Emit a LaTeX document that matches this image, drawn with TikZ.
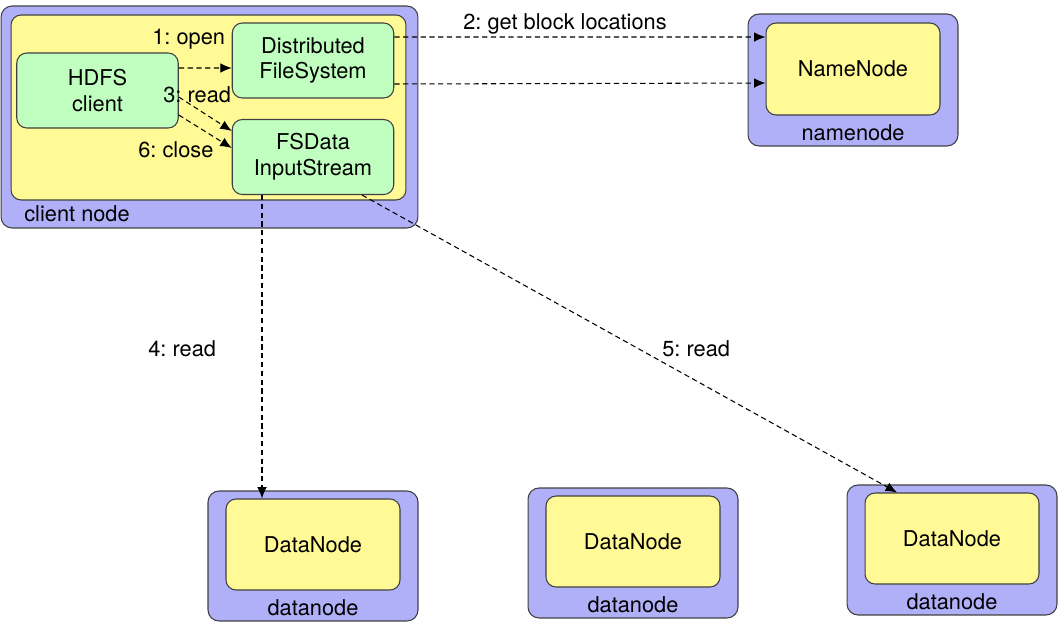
\documentclass[tikz,border=0pt]{standalone}
\usepackage{fontspec}
\setmainfont{TeX Gyre Heros}
\usetikzlibrary{arrows.meta}
\frenchspacing

\definecolor{hostblue}{RGB}{176,176,248}
\definecolor{jvmyellow}{RGB}{255,249,150}
\definecolor{objgreen}{RGB}{192,255,192}

\tikzset{
    host/.style={draw=black!75, line width=0.6pt, fill=hostblue, rounded corners=0.22cm, inner sep=0pt},
    jvm/.style={draw=black!75, line width=0.6pt, fill=jvmyellow, rounded corners=0.2cm, inner sep=0pt, align=center},
    obj/.style={draw=black!75, line width=0.6pt, fill=objgreen, rounded corners=0.2cm, inner sep=0pt,
        minimum width=3.23cm, minimum height=1.5cm, align=center},
    call/.style={line width=0.6pt, dash pattern=on 3pt off 2pt, -{Latex[length=6.5pt,width=5.5pt]}},
    lbl/.style={inner sep=0pt, anchor=base west},
    hostlbl/.style={inner sep=0pt, anchor=base}
}

\begin{document}
\begin{tikzpicture}[x=0.02cm, y=-0.02cm, font=\fontsize{12.4}{14.7}\selectfont]
    \useasboundingbox (0,0) rectangle (1058,629);

    % client node
    \node[host, minimum width=8.34cm, minimum height=4.44cm] (clienthost) at (209.5,117) {};
    \node[jvm, minimum width=7.9cm, minimum height=3.7cm] (clientjvm) at (208.5,107.5) {};
    \node[lbl] (clientlbl) at (24,221) {client node};
    \node[obj] (hdfs) at (97.5,90.5) {HDFS\\client};
    \node[obj] (dfs) at (313,60.5) {Distributed\\FileSystem};
    \node[obj] (fsdis) at (313,157) {FSData\\InputStream};

    % namenode
    \node[host, minimum width=4.2cm, minimum height=2.64cm] (nnhost) at (853,80) {};
    \node[jvm, minimum width=3.48cm, minimum height=1.84cm] (namenode) at (853,69) {NameNode};
    \node[hostlbl] (nnlbl) at (853,140) {namenode};

    % datanodes
    \foreach \i/\x/\y in {1/313/556, 2/633/553, 3/952/550} {
        \node[host, minimum width=4.2cm, minimum height=2.6cm] (dnhost\i) at (\x,\y) {};
        \node[jvm, minimum width=3.48cm, minimum height=1.82cm] (datanode\i) at (\x,\y-11.5) {DataNode};
        \node[hostlbl] (dnlbl\i) at (\x,\y+59) {datanode};
    }

    % calls
    \draw[call] ([yshift=0.45cm]hdfs.east) -- ([yshift=-0.15cm]dfs.west);
    \draw[call] ([yshift=0.47cm]dfs.east) -- ([yshift=0.64cm]namenode.west);
    \draw[call] ([yshift=-0.47cm]dfs.east) -- ([yshift=-0.28cm]namenode.west);
    \draw[call] ([yshift=-0.13cm]hdfs.east) -- ([yshift=0.52cm]fsdis.west);
    \draw[call] ([yshift=-0.49cm]hdfs.east) -- ([yshift=0.18cm]fsdis.west);
    \draw[call] ([xshift=-1.02cm]fsdis.south) -- ([xshift=-1.02cm]datanode1.north);
    \draw[call] ([xshift=0.98cm]fsdis.south) -- ([xshift=-1.1cm]datanode3.north);

    \node[lbl] (openlbl) at (152,44) {1: open};
    \node[lbl] (locslbl) at (463,29) {2: get block locations};
    \node[lbl] (readlbl) at (163,102) {3: read};
    \node[lbl] (dnreadlbl) at (148,356) {4: read};
    \node[lbl] (dnreadlblb) at (662,356) {5: read};
    \node[lbl] (closelbl) at (138,157) {6: close};
\end{tikzpicture}
\end{document}
